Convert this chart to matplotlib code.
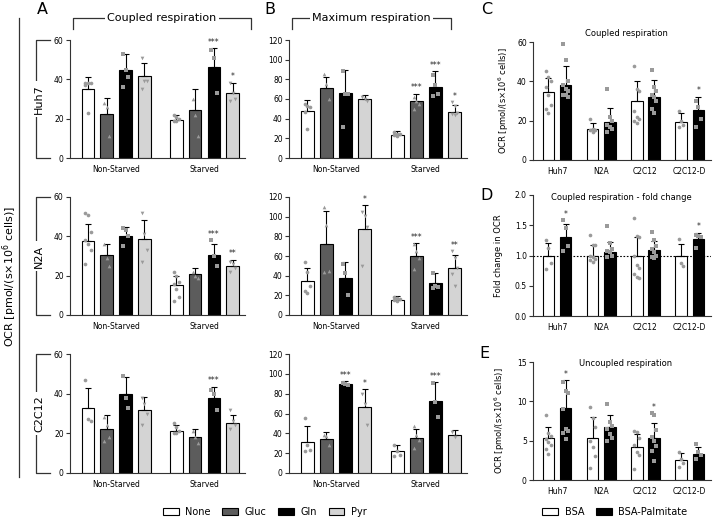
"""Substrate-dependent respiration figure (panels A-E)."""

import matplotlib

matplotlib.use("Agg")
import matplotlib.pyplot as plt
import numpy as np
from matplotlib.lines import Line2D
from matplotlib.patches import Patch

W, H = 713, 519

# ---------------- data ----------------
substrates = ["None", "Gluc", "Gln", "Pyr"]
conditions = ["Non-Starved", "Starved"]
cell_rows = ["Huh7", "N2A", "C2C12"]
cells_cde = ["Huh7", "N2A", "C2C12", "C2C12-D"]
treatments = ["BSA", "BSA-Palmitate"]

# order per row: Non-Starved None, Gluc, Gln, Pyr, then Starved None, Gluc, Gln, Pyr
coupled_mean = {
    "Huh7": [35, 22.6, 44.8, 41.6, 19.3, 24.5, 46.5, 33],
    "N2A": [37.5, 30.4, 40.2, 38.4, 15.5, 20.6, 30.4, 25],
    "C2C12": [33, 22, 39.7, 31.6, 21.1, 18.3, 37.7, 25],
}
coupled_sd = {
    "Huh7": [6.4, 8.1, 8.1, 6.5, 2.7, 10.5, 9.5, 5.3],
    "N2A": [9, 5.9, 4.6, 9.8, 4.3, 3.1, 5.9, 3.2],
    "C2C12": [9.8, 7, 8.5, 6.9, 2.9, 3.7, 5.9, 4],
}
coupled_pts = {
    "Huh7": [[38, 38, 38, 37, 23], [28, 26, 11], [53, 45, 41, 36], [51, 39, 39, 35],
             [22, 21, 20, 19, 19], [30, 22, 11], [55, 51, 33], [38, 33, 30, 29]],
    "N2A": [[52, 51, 42, 38, 36, 33, 26], [36, 29, 25], [44, 43, 40, 35], [52, 41, 33, 27],
            [22, 20, 17, 16, 13, 9, 7], [22, 20, 19], [38, 30, 25], [27, 26, 24, 22]],
    "C2C12": [[47, 27, 26], [28, 24, 18, 16], [49, 38, 33], [38, 35, 30, 24],
              [25, 23, 21, 20, 20], [21, 18, 15], [42, 40, 32], [32, 26, 24, 22]],
}
coupled_sig = {
    "Huh7": ["", "", "", "", "", "", "***", "*"],
    "N2A": ["", "", "", "", "", "", "***", "**"],
    "C2C12": ["", "", "", "", "", "", "***", ""],
}

max_mean = {
    "Huh7": [47.4, 71, 66, 60.5, 23.5, 58, 72, 47],
    "N2A": [34.5, 72, 37.2, 87, 15.2, 60.5, 33, 47.3],
    "C2C12": [31.3, 34.5, 90, 67, 22, 35, 73, 38],
}
max_sd = {
    "Huh7": [11.1, 11, 23, 3.5, 4, 7.5, 16, 6.5],
    "N2A": [13.8, 33.5, 16.8, 25, 4.1, 12.5, 10, 14.2],
    "C2C12": [15.7, 7, 2.5, 18, 6, 9.5, 18.5, 5.7],
}
max_pts = {
    "Huh7": [[55, 53, 52, 47, 29], [85, 75, 60], [88, 65, 65, 32], [62, 60, 58],
             [26, 24, 24, 23, 22], [62, 58, 55, 50], [84, 74, 65, 63], [57, 53, 46, 45, 44]],
    "N2A": [[54, 44, 30, 24, 22], [110, 92, 45, 44], [52, 43, 20], [105, 101, 90, 50],
            [18, 17, 16, 15, 14], [72, 65, 58, 47], [43, 29, 28, 27], [65, 58, 48, 42, 30]],
    "C2C12": [[55, 28, 23, 22], [38, 37, 28], [91, 90, 89], [80, 70, 48],
              [28, 22, 18, 17], [47, 38, 33, 25], [91, 72, 56], [41, 36]],
}
max_sig = {
    "Huh7": ["", "", "", "", "", "***", "***", "*"],
    "N2A": ["", "", "", "*", "", "***", "", "**"],
    "C2C12": ["", "", "***", "*", "", "", "***", ""],
}

# panel C: coupled respiration, BSA vs BSA-Palmitate
c_bsa_mean = [34.4, 15.6, 29.8, 19.5]
c_bsa_sd = [7.5, 3, 10.4, 4.5]
c_pal_mean = [38.1, 19.2, 32.2, 25.4]
c_pal_sd = [9.9, 7.4, 8.5, 6.8]
c_bsa_pts = [[45, 42, 40, 37, 33, 28, 26, 24], [21, 16, 15, 15, 14],
             [48, 36, 35, 25, 22, 21, 20, 19], [25, 20, 18, 17]]
c_pal_pts = [[59, 51, 40, 38, 36, 35, 33, 33, 32], [36, 22, 20, 18, 17, 16, 14],
             [46, 37, 35, 33, 32, 30, 26, 24], [30, 27, 21, 17]]
c_pal_sig = ["", "", "", "*"]

# panel D: fold change
d_bsa_mean = [1.0, 1.0, 1.0, 1.0]
d_bsa_sd = [0.2, 0.17, 0.3, 0.19]
d_pal_mean = [1.31, 1.06, 1.09, 1.27]
d_pal_sd = [0.21, 0.16, 0.15, 0.11]
d_bsa_pts = [[1.25, 1.12, 0.88, 0.77], [1.34, 1.18, 1.17, 1.0, 0.97, 0.95, 0.92, 0.90],
             [1.62, 1.32, 1.3, 1.0, 0.85, 0.8, 0.7, 0.64, 0.63], [1.27, 0.88, 0.82]]
d_pal_pts = [[1.59, 1.45, 1.16, 1.07], [1.49, 1.2, 1.1, 1.08, 1.05, 1.0, 0.97],
             [1.39, 1.25, 1.15, 1.1, 1.05, 1.0, 0.98, 0.96], [1.34, 1.32, 1.3, 1.12]]
d_pal_sig = ["*", "", "", "*"]

# panel E: uncoupled respiration
e_bsa_mean = [5.37, 5.3, 4.2, 2.6]
e_bsa_sd = [1.33, 2.7, 1.6, 0.8]
e_pal_mean = [9.2, 6.7, 5.3, 3.25]
e_pal_sd = [3.5, 1.5, 2.0, 0.95]
e_bsa_pts = [[8.2, 6.0, 5.6, 5.2, 4.8, 4.5, 4.0, 3.3], [9.3, 7.9, 6.7, 5.0, 4.2, 3.1, 1.5],
             [6.2, 6.1, 5.3, 4.5, 3.5, 3.2, 1.4], [3.6, 2.7, 2.2, 1.7]]
e_pal_pts = [[12.5, 11.3, 11.0, 9.0, 6.5, 6.2, 6.0, 5.2], [9.7, 7.4, 6.9, 6.5, 5.9, 5.3, 4.9],
             [8.5, 8.2, 6.3, 5.5, 4.9, 4.3, 3.7, 2.4], [4.6, 3.5, 3.2, 2.7]]
e_pal_sig = ["*", "", "*", ""]

# ---------------- style ----------------
sub_colors = ["white", "#5c5c5c", "black", "#d4d4d4"]
sub_markers = ["o", "^", "s", "v"]
trt_colors = ["white", "black"]
trt_markers = ["o", "s"]
AX_COLOR = "#333333"
PT_COLOR = "#9a9a9a"

plt.rcParams["font.family"] = "DejaVu Sans"

fig = plt.figure(figsize=(W / 100, H / 100), dpi=100)


def px_axes(left, right, top, bottom):
    return fig.add_axes([left / W, 1 - bottom / H, (right - left) / W, (bottom - top) / H])


def fig_line(xs, ys, lw=0.9):
    fig.add_artist(Line2D([x / W for x in xs], [1 - y / H for y in ys],
                          color=AX_COLOR, lw=lw, transform=fig.transFigure))


def style(ax, ymax, yticks, xlim, xt, xlabels, fmt=None):
    ax.set_xlim(*xlim)
    ax.set_ylim(0, ymax)
    ax.set_yticks(yticks)
    if fmt:
        ax.set_yticklabels([fmt.format(v) for v in yticks])
    ax.set_xticks(xt)
    ax.set_xticklabels(xlabels)
    for s in ["top", "right"]:
        ax.spines[s].set_visible(False)
    for s in ["left", "bottom"]:
        ax.spines[s].set_color(AX_COLOR)
        ax.spines[s].set_linewidth(0.8)
    ax.tick_params(axis="y", length=3, width=0.8, color=AX_COLOR, labelsize=5.5, pad=1.5)
    ax.tick_params(axis="x", length=0, labelsize=5.5, pad=5)


def draw(ax, xs, means, sds, pts, sigs, colors, markers, ymax):
    ax.bar(xs, means, width=0.67, color=colors, edgecolor="black", linewidth=0.8, zorder=2)
    ax.errorbar(xs, means, yerr=[np.zeros(len(means)), sds], fmt="none", ecolor="black",
                elinewidth=0.8, capsize=2.2, capthick=0.8, zorder=3)
    for x, p, m in zip(xs, pts, markers):
        n = len(p)
        off = ((np.arange(n) % 3) - 1) * 0.14
        ax.scatter(x + off, p, s=7, marker=m, color=PT_COLOR, linewidths=0, zorder=4)
    for x, mu, sd, p, sig in zip(xs, means, sds, pts, sigs):
        if sig:
            top = max(mu + sd, max(p))
            ax.text(x, top + ymax * 0.01, sig, ha="center", va="bottom",
                    fontsize=5.5, color="#222222", zorder=5)


# ---------------- panels A and B ----------------
ab_x = np.array([0, 1, 2, 3, 4.7, 5.7, 6.7, 7.7])
ab_xlim = (-0.95, 8.35)
ab_groups = [1.5, 6.2]
rows_px = [(40, 158), (197, 315), (354, 473)]
colors8 = sub_colors * 2
markers8 = sub_markers * 2

for cell, (t, b) in zip(cell_rows, rows_px):
    axA = px_axes(70, 245, t, b)
    draw(axA, ab_x, coupled_mean[cell], coupled_sd[cell], coupled_pts[cell],
         coupled_sig[cell], colors8, markers8, 60)
    style(axA, 60, [0, 20, 40, 60], ab_xlim, ab_groups, conditions)

    axB = px_axes(289, 467, t, b)
    draw(axB, ab_x, max_mean[cell], max_sd[cell], max_pts[cell],
         max_sig[cell], colors8, markers8, 120)
    style(axB, 120, [0, 20, 40, 60, 80, 100, 120], ab_xlim, ab_groups, conditions)

    # row bracket with cell-line name
    fig_line([50, 36, 36, 50], [t, t, b, b])
    fig.text(39 / W, 1 - (t + b) / 2 / H, cell, rotation=90, ha="center", va="center",
             fontsize=8, bbox=dict(facecolor="white", edgecolor="none", pad=2.5))

# big shared y label for A/B
fig_line([19, 19], [18, 477])
fig.text(9.5 / W, 1 - 277 / H, "OCR [pmol/(s×10$^{6}$ cells)]", rotation=90,
         ha="center", va="center", fontsize=8)

# top brackets
for (l, r), title in zip([(73, 251), (292, 451)], ["Coupled respiration", "Maximum respiration"]):
    fig_line([l, l, r, r], [29, 18, 18, 29])
    fig.text((l + r) / 2 / W, 1 - 18 / H, title, ha="center", va="center", fontsize=8,
             bbox=dict(facecolor="white", edgecolor="none", pad=1.5))

# ---------------- panels C, D, E ----------------
cde_step = 2.57
cde_bsa_x = np.arange(4) * cde_step
cde_pal_x = cde_bsa_x + 1
cde_xlim = (-0.9, 9.45)
cde_groups = cde_bsa_x + 0.5
ylabel_ocr = "OCR [pmol/(s×10$^{6}$ cells)]"

specs = [
    ((42, 160), 60, [0, 20, 40, 60], None, c_bsa_mean, c_bsa_sd, c_bsa_pts,
     c_pal_mean, c_pal_sd, c_pal_pts, c_pal_sig, ylabel_ocr, -0.125),
    ((195, 316), 2.0, [0.0, 0.5, 1.0, 1.5, 2.0], "{:.1f}", d_bsa_mean, d_bsa_sd, d_bsa_pts,
     d_pal_mean, d_pal_sd, d_pal_pts, d_pal_sig, "Fold change in OCR", -0.17),
    ((362, 480), 15, [0, 5, 10, 15], None, e_bsa_mean, e_bsa_sd, e_bsa_pts,
     e_pal_mean, e_pal_sd, e_pal_pts, e_pal_sig, ylabel_ocr, -0.145),
]

cde_axes = []
for (t, b), ymax, yt, fmt, bm, bs, bp, pm, ps, pp, psig, ylab, lx in specs:
    ax = px_axes(533, 711, t, b)
    draw(ax, cde_bsa_x, bm, bs, bp, [""] * 4, [trt_colors[0]] * 4, [trt_markers[0]] * 4, ymax)
    draw(ax, cde_pal_x, pm, ps, pp, psig, [trt_colors[1]] * 4, [trt_markers[1]] * 4, ymax)
    style(ax, ymax, yt, cde_xlim, cde_groups, cells_cde, fmt)
    ax.set_ylabel(ylab, fontsize=6)
    ax.yaxis.set_label_coords(lx, 0.5)
    cde_axes.append(ax)

cde_axes[1].axhline(1.0, color="black", lw=0.8, ls=(0, (1.5, 1.5)), zorder=3.5)

fig.text(626 / W, 1 - 33 / H, "Coupled respiration", ha="center", va="center", fontsize=6)
fig.text(621 / W, 1 - 198 / H, "Coupled respiration - fold change", ha="center",
         va="center", fontsize=6)
fig.text(626 / W, 1 - 364 / H, "Uncoupled respiration", ha="center", va="center", fontsize=6)

# panel letters
for letter, x, y in [("A", 42, 9), ("B", 270, 9), ("C", 487, 10), ("D", 487, 196), ("E", 484, 354)]:
    fig.text(x / W, 1 - y / H, letter, ha="center", va="center", fontsize=11.5)

# ---------------- legends ----------------
sub_handles = [Patch(facecolor=c, edgecolor="black", linewidth=0.8) for c in sub_colors]
fig.legend(sub_handles, substrates, ncol=4, loc="center", bbox_to_anchor=(265 / W, 1 - 512 / H),
           frameon=False, fontsize=7, handlelength=1.6, handleheight=0.6,
           columnspacing=1.2, handletextpad=0.7, borderpad=0)
trt_handles = [Patch(facecolor=c, edgecolor="black", linewidth=0.8) for c in trt_colors]
fig.legend(trt_handles, treatments, ncol=2, loc="center", bbox_to_anchor=(615 / W, 1 - 512 / H),
           frameon=False, fontsize=7, handlelength=1.6, handleheight=0.6,
           columnspacing=1.2, handletextpad=0.7, borderpad=0)

fig.savefig("out.png", dpi=100)
